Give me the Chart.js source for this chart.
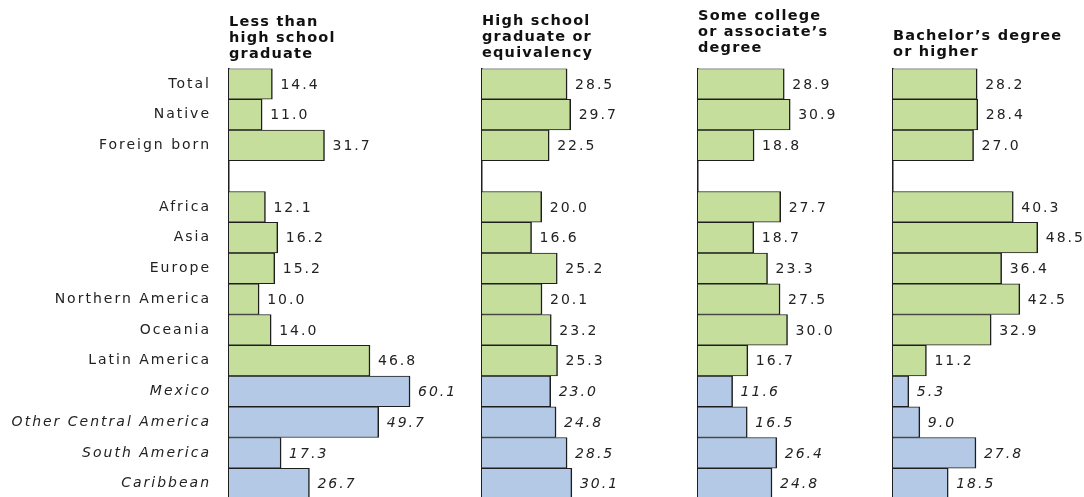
<!DOCTYPE html>
<html>
<head>
<meta charset="utf-8">
<script src="https://cdn.jsdelivr.net/npm/chart.js@4.4.0/dist/chart.umd.min.js"></script>
<style>
  html, body { margin: 0; padding: 0; background: #fff; overflow: hidden; }
  canvas { position: absolute; top: 0; }
</style>
</head>
<body>
<canvas id="c1" width="470" height="500" style="left:0px"></canvas>
<canvas id="c2" width="216" height="500" style="left:478px"></canvas>
<canvas id="c3" width="195" height="500" style="left:694px"></canvas>
<canvas id="c4" width="195" height="500" style="left:889px"></canvas>
<script>
// rows (empty one is the gap between the two groups)
const categories = ['Total', 'Native', 'Foreign born', '', 'Africa', 'Asia', 'Europe',
  'Northern America', 'Oceania', 'Latin America', 'Mexico', 'Other Central America',
  'South America', 'Caribbean'];
const subRegions = ['Mexico', 'Other Central America', 'South America', 'Caribbean'];

const lessThanHS = [14.4, 11.0, 31.7, null, 12.1, 16.2, 15.2, 10.0, 14.0, 46.8, 60.1, 49.7, 17.3, 26.7];
const highSchool = [28.5, 29.7, 22.5, null, 20.0, 16.6, 25.2, 20.1, 23.2, 25.3, 23.0, 24.8, 28.5, 30.1];
const someCollege = [28.9, 30.9, 18.8, null, 27.7, 18.7, 23.3, 27.5, 30.0, 16.7, 11.6, 16.5, 26.4, 24.8];
const bachelors = [28.2, 28.4, 27.0, null, 40.3, 48.5, 36.4, 42.5, 32.9, 11.2, 5.3, 9.0, 27.8, 18.5];

const headers = [
  ['Less than', 'high school', 'graduate'],
  ['High school', 'graduate or', 'equivalency'],
  ['Some college', 'or associate\u2019s', 'degree'],
  ['Bachelor\u2019s degree', 'or higher']
];

const FONT = '"DejaVu Sans", Verdana, sans-serif';
const green = '#c5de9c';
const blue = '#b3c9e5';
const isSub = (i) => subRegions.includes(categories[i]);

// letter spacing for all text drawn on the canvas
const spacing = {
  id: 'spacing',
  beforeDraw(chart) { chart.ctx.letterSpacing = '2px'; }
};

// numbers right of each bar
const valueLabels = {
  id: 'valueLabels',
  afterDatasetsDraw(chart) {
    const ctx = chart.ctx;
    const meta = chart.getDatasetMeta(0);
    const data = chart.data.datasets[0].data;
    ctx.save();
    ctx.letterSpacing = '2px';
    ctx.fillStyle = '#222';
    ctx.textAlign = 'left';
    ctx.textBaseline = 'middle';
    meta.data.forEach((bar, i) => {
      if (data[i] == null) return;
      ctx.font = (isSub(i) ? 'italic ' : '') + '14px ' + FONT;
      ctx.fillText(data[i].toFixed(1), bar.x + 8, bar.y + 1);
    });
    ctx.restore();
  }
};

// column header above each panel
const header = {
  id: 'header',
  afterDraw(chart, args, opts) {
    const ctx = chart.ctx;
    ctx.save();
    ctx.letterSpacing = '1.2px';
    ctx.fillStyle = '#111';
    ctx.font = 'bold 14.5px ' + FONT;
    ctx.textAlign = 'left';
    ctx.textBaseline = 'alphabetic';
    opts.lines.forEach((t, i) => ctx.fillText(t, chart.chartArea.left, opts.baselines[i]));
    ctx.restore();
  }
};

function makePanel(id, values, lines, baselines, max, showLabels) {
  return new Chart(document.getElementById(id), {
    type: 'bar',
    data: {
      labels: categories,
      datasets: [{
        data: values,
        backgroundColor: values.map((v, i) => isSub(i) ? blue : green),
        borderColor: '#1e1e1e',
        borderWidth: { top: 1, bottom: 1, right: 1.5, left: 0 },
        borderSkipped: 'start',
        barPercentage: 1,
        categoryPercentage: 1
      }]
    },
    options: {
      indexAxis: 'y',
      responsive: false,
      animation: false,
      layout: { padding: { top: 68.5, bottom: 1, left: 0, right: 0 } },
      scales: {
        x: { display: false, min: 0, max: max },
        y: {
          afterFit: (scale) => {
            scale.width = showLabels ? 229 : 4;
            scale.paddingTop = 0;
            scale.paddingBottom = 0;
          },
          grid: { display: false },
          border: { display: true, color: '#1e1e1e', width: 1.5 },
          ticks: {
            display: showLabels,
            padding: 10,
            color: '#222',
            font: (c) => ({ family: FONT, size: 14, style: isSub(c.index) ? 'italic' : 'normal' })
          }
        }
      },
      plugins: {
        legend: { display: false },
        tooltip: { enabled: false },
        header: { lines: lines, baselines: baselines }
      }
    },
    plugins: [spacing, valueLabels, header]
  });
}

makePanel('c1', lessThanHS, headers[0], [26, 42, 58], 80, true);
makePanel('c2', highSchool, headers[1], [25, 41, 57], 71, false);
makePanel('c3', someCollege, headers[2], [20, 36, 52], 64, false);
makePanel('c4', bachelors, headers[3], [40, 55.5], 64, false);
</script>
</body>
</html>
